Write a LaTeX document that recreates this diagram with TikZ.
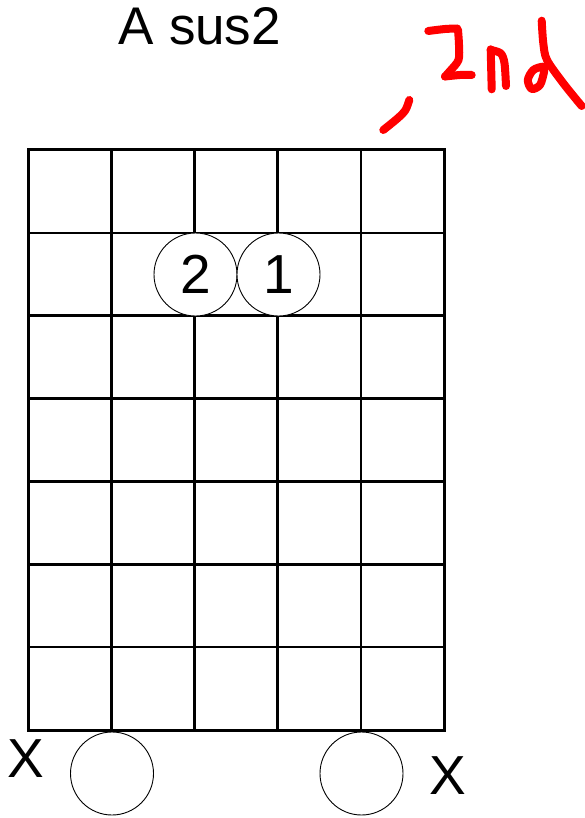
\documentclass[tikz,border=0pt]{standalone}
\usepackage{fontspec}
\setmainfont{Liberation Sans}
\begin{document}
\begin{tikzpicture}[x=1pt,y=-1pt,
  gridline/.style={line width=2.6pt,black},
  finger/.style={circle,draw,line width=0.9pt,minimum size=83pt,inner sep=0pt,font=\fontsize{55}{55}\selectfont},
  bigtext/.style={font=\fontsize{55}{55}\selectfont,inner sep=0pt,anchor=base},
  titletext/.style={font=\fontsize{53}{53}\selectfont,inner sep=0pt,anchor=base},
  ink/.style={red,line width=8pt,line cap=round,line join=round}]
\useasboundingbox (0,0) rectangle (585,818);
% grid
\foreach \i in {0,...,5} {
  \draw[gridline] ({28+\i*83.2},150) -- ({28+\i*83.2},730);
}
\foreach \j in {0,...,7} {
  \draw[gridline] (28,{150+\j*82.857}) -- (444,{150+\j*82.857});
}
\draw[line width=3pt,line join=miter] (28,150) rectangle (444,730);
% title
\node[titletext] (title) at (200,45) {A sus2};
% fingers
\node[finger,fill=white] (f2) at (195.5,274.5) {2};
\node[finger,fill=white] (f1) at (278.5,274.5) {1};
% open strings
\node[finger,fill=white] (o1) at (112,773.5) {};
\node[finger,fill=white] (o2) at (361.5,773.5) {};
% muted
\node[bigtext] (x1) at (25.5,777) {X};
\node[bigtext] (x2) at (447.5,794) {X};
% red handwriting
\draw[ink] plot[smooth] coordinates {(383.3,130) (398,118) (405.5,110) (409.3,100)};
\draw[ink] plot[smooth] coordinates {(428.3,31) (445,29) (457.3,28.5)};
\draw[ink] plot[smooth] coordinates {(458,30) (459,45) (458.5,60) (450,71) (445,76.5)};
\draw[ink] plot[smooth] coordinates {(445,76.5) (460,75) (471.7,75)};
\draw[ink] (490.7,49.3) -- (491.7,89.3);
\draw[ink] plot[smooth] coordinates {(490.7,50) (500.7,53.3) (504.5,63.3) (506,86)};
\draw[ink] plot[smooth cycle] coordinates {(543.3,66.7) (533.3,70) (527.8,80) (531.7,89) (540,85) (544,72)};
\draw[ink] plot[smooth] coordinates {(541.7,20.7) (543.3,43.3) (547,60) (563.3,83.3) (581.7,106)};
\end{tikzpicture}
\end{document}
